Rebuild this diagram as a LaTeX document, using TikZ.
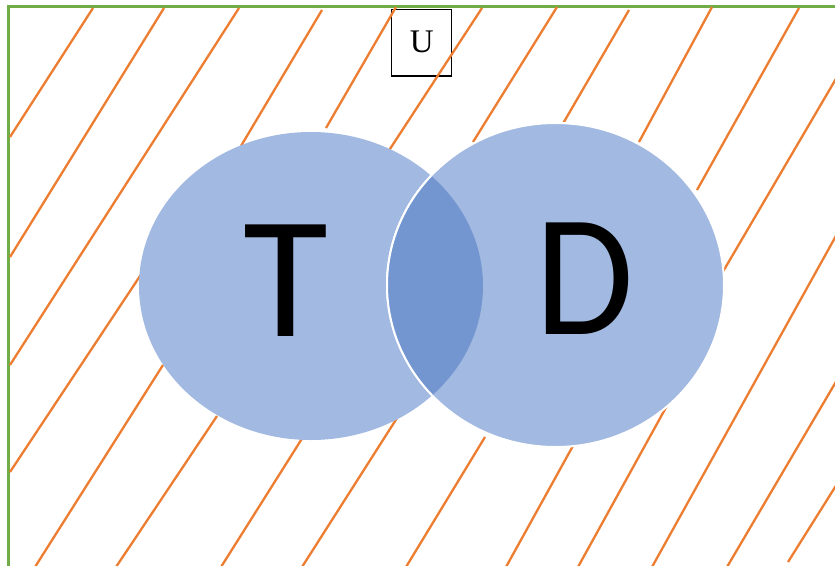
\documentclass[tikz,border=0pt]{standalone}
\usepackage{fontspec}
\setmainfont{Liberation Serif}
\newfontfamily\calib{Carlito}
\definecolor{lightblue}{HTML}{A2B9E1}
\definecolor{darkblue}{HTML}{7396D0}
\definecolor{hatchorange}{HTML}{ED7D31}
\definecolor{framegreen}{HTML}{70AD47}
\begin{document}
\begin{tikzpicture}[x=1pt,y=-1pt,
  hatch/.style={draw=hatchorange,line width=2.3pt},
  frame/.style={draw=framegreen,line width=3pt},
  ubox/.style={draw=black,line width=1.5pt,minimum width=60pt,minimum height=66.7pt,inner sep=0pt,font=\fontsize{33}{33}\selectfont},
  letter/.style={inner sep=0pt,font=\calib\fontsize{174}{174}\selectfont},
  leftset/.style={fill=lightblue},
  rightset/.style={fill=lightblue}]
\useasboundingbox (0,0) rectangle (835,565);
\clip (0,0) rectangle (835,565);
\fill[white] (0,0) rectangle (835,565);
\draw[frame] (8.7,6.2) rectangle (845,575);
\node[ubox] (U) at (421.7,42.7) {\raisebox{2.5pt}{U}};
% hatch lines
\draw[hatch] (93,8) -- (10,137);
\draw[hatch] (164,8) -- (10,257);
\draw[hatch] (239,8) -- (10,365);
\draw[hatch] (322,10) -- (241,146);
\draw[hatch] (396,7) -- (326,128);
\draw[hatch] (482,8) -- (388,152);
\draw[hatch] (557,7) -- (473,142);
\draw[hatch] (629,10) -- (561,127);
\draw[hatch] (712,7) -- (639,142);
\draw[hatch] (799,8) -- (697,190);
\draw[hatch] (837,77) -- (721,275);
\draw[hatch] (837,234) -- (652,567);
\draw[hatch] (837,380) -- (727,567);
\draw[hatch] (837,484) -- (788,562);
\draw[hatch] (142,273) -- (10,472);
\draw[hatch] (163,365) -- (35,567);
\draw[hatch] (217,416) -- (116,567);
\draw[hatch] (303,437) -- (221,567);
\draw[hatch] (397,418) -- (302,567);
\draw[hatch] (485,437) -- (406,567);
\draw[hatch] (574,444) -- (506,567);
\draw[hatch] (669,402) -- (578,567);
% sets
\path[leftset] (311,286) ellipse [x radius=172pt, y radius=154pt];
\path[rightset,draw=white,line width=2pt] (555.5,285) ellipse [x radius=168.5pt, y radius=162pt];
\begin{scope}
  \clip (555.5,285) ellipse [x radius=168.5pt, y radius=162pt];
  \fill[darkblue] (311,286) ellipse [x radius=172pt, y radius=154pt];
\end{scope}
\begin{scope}
  \clip (311,286) ellipse [x radius=172pt, y radius=154pt];
  \draw[white,line width=2pt] (555.5,285) ellipse [x radius=168.5pt, y radius=162pt];
\end{scope}
\node[letter] (T) at (286,281) {T};
\node[letter,xscale=0.92] (D) at (584.5,278.5) {D};
\end{tikzpicture}
\end{document}
